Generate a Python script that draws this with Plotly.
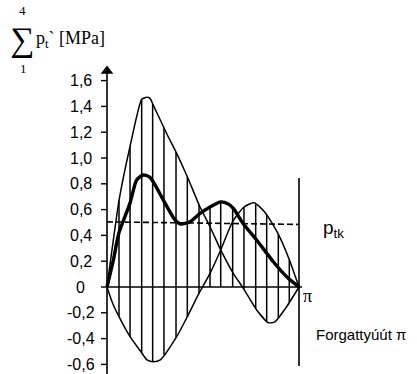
import numpy as np
import plotly.graph_objects as go

# crank angle in degrees (0..180 == 0..pi)
a_deg = [0, 11.25, 21.6, 32.5, 37.2, 40.3, 43.4, 55.9, 65.3, 75.3, 87.2, 96.6, 105.9,
         118.4, 127.8, 140.3, 151.2, 157.5, 168.4, 180]
a_val = [0, 0.67, 1.09, 1.455, 1.47, 1.462, 1.41, 1.19, 1.036, 0.855, 0.62, 0.467, 0.30,
         0.106, -0.01, -0.178, -0.277, -0.27, -0.153, 0]

b_deg = [0, 5, 11.25, 21.6, 32.5, 37.5, 43.4, 50, 65.3, 75.3, 86.2, 96.6, 106.6, 117.8,
         128.4, 137.8, 148, 160.6, 171, 180]
b_val = [0, -0.12, -0.23, -0.385, -0.51, -0.565, -0.58, -0.565, -0.385, -0.23, -0.05,
         0.106, 0.287, 0.506, 0.62, 0.653, 0.58, 0.41, 0.21, 0]

s_deg = [0, 6, 11.2, 21.6, 27.8, 34, 40.3, 52.8, 63.75, 69, 77.8, 87.2, 96.6, 106.6,
         113.7, 118.4, 127.8, 140.3, 155.9, 168.4, 180]
s_val = [0, 0.21, 0.42, 0.65, 0.83, 0.868, 0.85, 0.674, 0.52, 0.488, 0.506, 0.57, 0.62,
         0.66, 0.643, 0.61, 0.49, 0.364, 0.196, 0.08, 0]

hatch_deg = [11.25, 21.6, 32.5, 42.8, 53.4, 64.7, 75.3, 86.25, 96.6, 106.6, 117.8,
             128.4, 139.4, 149.7, 160.6, 170.9]

ptk_val = [0.505, 0.485]

y_ticks = [-0.6, -0.4, -0.2, 0, 0.2, 0.4, 0.6, 0.8, 1.0, 1.2, 1.4, 1.6]
y_tick_labels = ["-0,6", "-0,4", "-0,2", "0", "0,2", "0,4", "0,6", "0,8", "1,0", "1,2", "1,4", "1,6"]

# pixel mapping: x px = 107 + deg*192/180 ; y px = 287 - val*129
W, H = 417, 374
X0, XS = 107, 192 / 180
Y0, YS = 287, 129
xr = [(0 - X0) / XS, (W - X0) / XS]
yr = [(Y0 - H) / YS, Y0 / YS]

def dx(px):
    return (px - X0) / XS

def dy(py):
    return (Y0 - py) / YS

fig = go.Figure()

# hatch lines
hx, hy = [], []
for d in hatch_deg:
    ya = np.interp(d, a_deg, a_val)
    yb = np.interp(d, b_deg, b_val)
    ys = np.interp(d, s_deg, s_val)
    top = max(ya, yb, ys)
    bot = min(ya, yb, 0)
    hx += [d, d, None]
    hy += [top, bot, None]
fig.add_trace(go.Scatter(x=hx, y=hy, mode="lines", line=dict(color="black", width=1.5),
                         hoverinfo="skip"))

fig.add_trace(go.Scatter(x=a_deg, y=a_val, mode="lines",
                         line=dict(color="black", width=1.5, shape="spline", smoothing=0.5)))
fig.add_trace(go.Scatter(x=b_deg, y=b_val, mode="lines",
                         line=dict(color="black", width=1.5, shape="spline", smoothing=0.6)))
fig.add_trace(go.Scatter(x=s_deg, y=s_val, mode="lines",
                         line=dict(color="black", width=3.4, shape="spline", smoothing=0.7)))
# p_tk dashed
fig.add_trace(go.Scatter(x=[0, 180], y=ptk_val, mode="lines",
                         line=dict(color="black", width=1.6, dash="6px,3px")))

# axes
fig.add_shape(type="line", x0=0, x1=0, y0=yr[0], y1=dy(70), line=dict(color="black", width=1.6))
fig.add_shape(type="line", x0=0, x1=dx(302), y0=0, y1=0, line=dict(color="black", width=1.6))
fig.add_shape(type="line", x0=180, x1=180, y0=dy(178), y1=dy(366), line=dict(color="black", width=1.6))
# arrow head
fig.add_trace(go.Scatter(x=[0], y=[dy(71)], mode="markers",
                         marker=dict(symbol="triangle-up", size=11, color="black")))
# ticks
tx, ty = [], []
for t in y_ticks:
    tx += [dx(101), 0, None]
    ty += [t, t, None]
fig.add_trace(go.Scatter(x=tx, y=ty, mode="lines", line=dict(color="black", width=1.4)))

for t, lab in zip(y_ticks, y_tick_labels):
    fig.add_annotation(x=dx(80.5), y=t, text=lab, showarrow=False, xanchor="center",
                       yanchor="middle", font=dict(family="Liberation Sans", size=16, color="black"))

fig.add_annotation(x=dx(307), y=dy(296), text="π", showarrow=False,
                   font=dict(family="Liberation Serif", size=18, color="black"))
fig.add_annotation(x=dx(321), y=dy(229), text="p<sub>tk</sub>", showarrow=False, xanchor="left",
                   font=dict(family="Liberation Sans", size=19, color="black"))
fig.add_annotation(x=dx(314), y=dy(334), text="Forgattyúút π", showarrow=False, xanchor="left",
                   font=dict(family="Liberation Sans", size=15, color="black"))

# title
fig.add_annotation(x=dx(22), y=dy(39.5), text="∑", showarrow=False,
                   font=dict(family="Liberation Serif", size=34, color="black"))
fig.add_annotation(x=dx(22), y=dy(10), text="4", showarrow=False,
                   font=dict(family="Liberation Serif", size=13, color="black"))
fig.add_annotation(x=dx(23), y=dy(68), text="1", showarrow=False,
                   font=dict(family="Liberation Serif", size=13, color="black"))
fig.add_annotation(x=dx(34), y=dy(39), text="p<sub>t</sub>` [MPa]", showarrow=False, xanchor="left",
                   font=dict(family="Liberation Serif", size=18, color="black"))

fig.update_layout(width=W, height=H, margin=dict(l=0, r=0, t=0, b=0),
                  paper_bgcolor="white", plot_bgcolor="white", showlegend=False,
                  xaxis=dict(range=xr, visible=False, fixedrange=True),
                  yaxis=dict(range=yr, visible=False, fixedrange=True))

fig.write_html("out.html")
